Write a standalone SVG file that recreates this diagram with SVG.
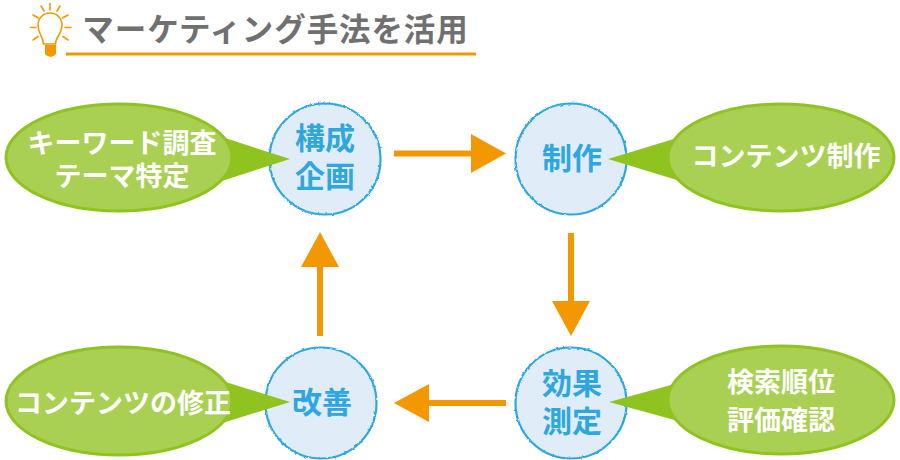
<svg xmlns="http://www.w3.org/2000/svg" width="900" height="460" viewBox="0 0 900 460">
<style>
text{font-family:"Noto Sans CJK JP","Noto Sans",sans-serif;font-weight:700;text-anchor:middle}
.c{fill:#e0edf9;stroke:#2ea7e0;stroke-width:2.2;filter:url(#rough)}
.ct{fill:#2ea7e0;font-size:30px}
.e{fill:#a9d053;stroke:#8fc31f;stroke-width:3}
.tail{fill:#8fc31f}
.et{fill:#fff;font-size:27px}
.a{stroke:#f39800;stroke-width:6;fill:none}
.h{fill:#f39800}
.b{stroke:#f39800;stroke-width:1.6;fill:none;stroke-linecap:round}
</style>
<defs>
<filter id="rough" x="-10%" y="-10%" width="120%" height="120%">
<feTurbulence type="fractalNoise" baseFrequency="0.25" numOctaves="2" seed="4"/>
<feDisplacementMap in="SourceGraphic" scale="2.500" xChannelSelector="R" yChannelSelector="G"/>
</filter>
</defs>
<rect width="900" height="460" fill="#fff"/>
<g id="title">
<path class="b" d="M44 45 C44 38 38.500 35 38.500 26 A12 12 0 1 1 62.500 26 C62.500 35 56 38 56 45 Z" transform="translate(-0.500,-1)"/>
<path class="b" d="M50 3.500V10M41 6L44 11M60 6L57 11M33 15L38.500 18M68 15L62.500 18M30.500 27.500H36M65 27.500H71M33 40L38 36.500M68 40L63 36.500" stroke-width="1.800"/>
<path class="h" d="M45 45H56V54Q53 57 50.500 57Q48 57 45 54Z"/>
<text x="275.500" y="41" fill="#717071" style="font-size:31.500px;letter-spacing:0.900px">マーケティング手法を活用</text>
<rect x="66" y="52.500" width="410" height="3" fill="#f39800"/>
</g>
<g id="connectors">
<path class="a" d="M394 153.500H474"/><path class="h" d="M471 134L506 153.500L471 173Z"/>
<path class="a" d="M571 233V303"/><path class="h" d="M552 301L571 336L590 301Z"/>
<path class="a" d="M506 403H427"/><path class="h" d="M429 384L394 403L429 422Z"/>
<path class="a" d="M320 336V265"/><path class="h" d="M301 267L320 232L339 267Z"/>
</g>
<g id="node-plan"><circle class="c" cx="325" cy="159" r="55.500"/><text class="ct" x="325" y="149">構成</text><text class="ct" x="325" y="187">企画</text></g>
<g id="node-make"><circle class="c" cx="571" cy="159" r="55.500"/><text class="ct" x="572" y="169">制作</text></g>
<g id="node-measure"><circle class="c" cx="571" cy="403" r="55.500"/><text class="ct" x="572" y="394">効果</text><text class="ct" x="572" y="432">測定</text></g>
<g id="node-improve"><circle class="c" cx="321" cy="403" r="55.500"/><text class="ct" x="322" y="413">改善</text></g>
<g id="bubble-keyword"><path class="tail" d="M200 130L290 159L200 188Z"/><ellipse class="e" cx="119" cy="157.500" rx="113" ry="53.500"/><text class="et" x="122" y="153">キーワード調査</text><text class="et" x="122" y="186">テーマ特定</text></g>
<g id="bubble-content"><path class="tail" d="M700 131L608 159L700 187Z"/><ellipse class="e" cx="781" cy="157.500" rx="113" ry="53.500"/><text class="et" x="786" y="166">コンテンツ制作</text></g>
<g id="bubble-fix"><path class="tail" d="M200 374L290 402L200 430Z"/><ellipse class="e" cx="119" cy="401" rx="113" ry="54"/><text class="et" x="123" y="413">コンテンツの修正</text></g>
<g id="bubble-rank"><path class="tail" d="M700 377L609 402L700 427Z"/><ellipse class="e" cx="781" cy="400" rx="113" ry="54"/><text class="et" x="781" y="392">検索順位</text><text class="et" x="781" y="430">評価確認</text></g>
</svg>
